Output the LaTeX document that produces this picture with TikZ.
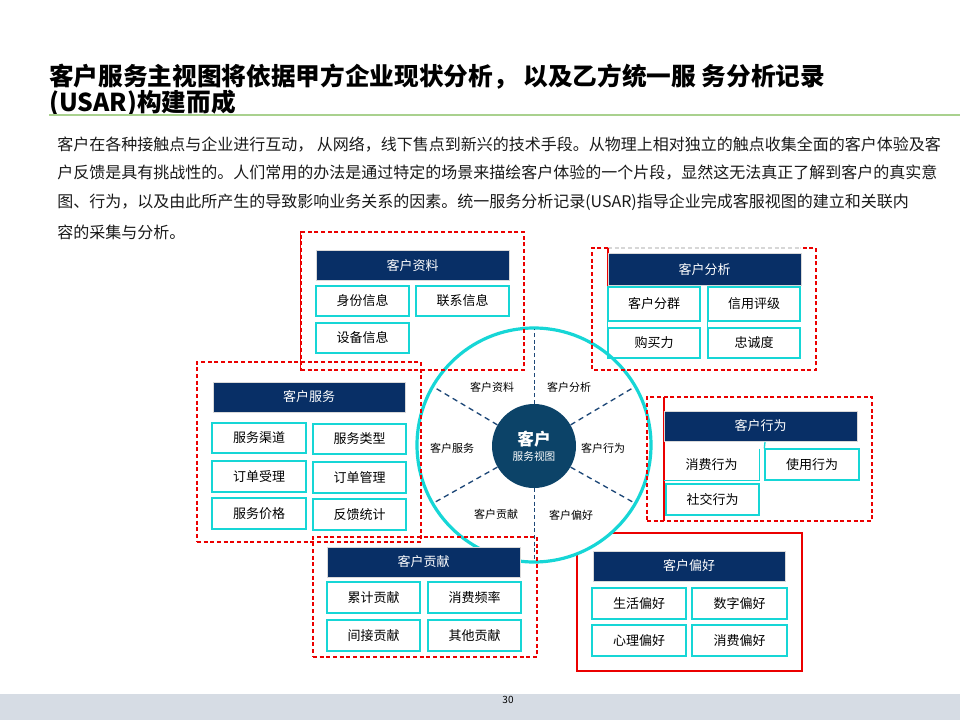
\documentclass[tikz,border=0pt]{standalone}
\usepackage{fontspec}
\setmainfont{Noto Sans CJK SC}
\usetikzlibrary{calc}
\definecolor{navy}{RGB}{8,47,102}
\definecolor{hubc}{RGB}{12,67,104}
\definecolor{cyanc}{RGB}{22,214,214}
\definecolor{rayc}{RGB}{30,72,120}
\definecolor{redc}{RGB}{235,0,0}
\definecolor{footc}{RGB}{214,220,228}
\definecolor{greenl}{RGB}{169,209,142}
\definecolor{hdrb}{RGB}{217,217,217}
\definecolor{grayd}{RGB}{215,215,215}
\newcommand\bx[7]{%
  \pgfmathsetmacro\bxw{(#4-#2)*0.75}%
  \pgfmathsetmacro\bxh{(#5-#3)*0.75}%
  \node[#7, minimum width=\bxw pt, minimum height=\bxh pt] (#1) at ({(#2+#4)/2},{(#3+#5)/2}) {#6};}
\begin{document}
\begin{tikzpicture}[x=0.75pt,y=-0.75pt,
  boxfont/.style={font=\fontsize{9.75pt}{10pt}\selectfont, text height=0.84em, text depth=0.16em},
  hdr/.style={draw=hdrb, line width=0.75pt, fill=navy, text=white, inner sep=0pt, boxfont},
  item/.style={draw=cyanc, line width=1pt, inner sep=0pt, boxfont},
  bare/.style={inner sep=0pt, boxfont},
  cyanl/.style={draw=cyanc, line width=1pt},
  reddash/.style={draw=redc, line width=0.8pt, dash pattern=on 3pt off 2pt, inner sep=0pt},
  graydash/.style={draw=grayd, line width=0.8pt, dash pattern=on 3pt off 2pt},
  redsolid/.style={draw=redc, line width=1.2pt, inner sep=0pt},
  ray/.style={draw=rayc, line width=1pt, dash pattern=on 4pt off 3pt},
  vray/.style={draw=rayc, line width=0.7pt, dash pattern=on 3pt off 2pt},
  wlabel/.style={font=\fontsize{8.25pt}{9pt}\selectfont},
  bodytext/.style={anchor=west, inner sep=0pt, font=\fontsize{12pt}{14pt}\selectfont, text=black!90},
  titletext/.style={anchor=west, inner sep=0pt, font=\fontsize{18.5pt}{20pt}\selectfont\bfseries}
]
\useasboundingbox (0,0) rectangle (960,720);
% footer
\fill[footc] (0,694) rectangle (960,720);
\node[font=\fontsize{7.5pt}{8pt}\selectfont, inner sep=0pt] (pg) at (508,700) {30};

% title
\node[titletext] (t1) at (49,77) {客户服务主视图将依据甲方企业现状分析， 以及乙方统一服 务分析记录};
\node[titletext] (t2) at (49,103) {(USAR)构建而成};
\coordinate (gl) at (49,115);
\coordinate (gr) at (960,115);
\draw[greenl, line width=1pt] (gl) -- (gr);

% body
\node[bodytext] (b1) at (57,145) {客户在各种接触点与企业进行互动， 从网络，线下售点到新兴的技术手段。从物理上相对独立的触点收集全面的客户体验及客};
\node[bodytext] (b2) at (57,173) {户反馈是具有挑战性的。人们常用的办法是通过特定的场景来描绘客户体验的一个片段，显然这无法真正了解到客户的真实意};
\node[bodytext] (b3) at (57,202) {图、行为，以及由此所产生的导致影响业务关系的因素。统一服务分析记录(USAR)指导企业完成客服视图的建立和关联内};
\node[bodytext] (b4) at (57,232) {容的采集与分析。};

% 客户偏好 frame (under the wheel)
\bx{fP}{577}{533}{802}{671}{}{redsolid}

% wheel
\node[circle, draw=cyanc, line width=2.4pt, fill=white, minimum size=175.5pt, inner sep=0pt] (wheel) at (534,445) {};
\node[circle, fill=hubc, minimum size=63pt, inner sep=0pt, text=white, align=center] (hub) at (534,446)
  {{\fontsize{12.5pt}{13pt}\selectfont\bfseries 客户}\\[-1pt]{\fontsize{8pt}{9pt}\selectfont 服务视图}};
\foreach \a in {30,150,210,330} {
  \coordinate (o\a) at ($(wheel.center)+(\a:85.5pt)$);
  \draw[ray] (hub.\a) -- (o\a);
}
\coordinate (o90) at ($(wheel.center)+(90:87pt)$);
\coordinate (o270) at ($(wheel.center)+(270:86pt)$);
\draw[vray] (hub.90) -- (o90);
\draw[vray] (hub.270) -- (o270);
\node[wlabel] (wA) at (492,387) {客户资料};
\node[wlabel] (wB) at (569,387) {客户分析};
\node[wlabel] (wC) at (452,448) {客户服务};
\node[wlabel] (wE) at (603,448) {客户行为};
\node[wlabel] (wD) at (496,514) {客户贡献};
\node[wlabel] (wF) at (571,515) {客户偏好};

% 客户资料 group
\bx{fA}{301}{232}{524}{370}{}{reddash}
\draw[redsolid] (fA.north west) -- (fA.south west);
\bx{hA}{316}{251}{509}{281}{客户资料}{hdr}
\bx{iA1}{316}{286}{409}{316}{身份信息}{item}
\bx{iA2}{416}{286}{509}{316}{联系信息}{item}
\bx{iA3}{316}{323}{409}{353}{设备信息}{item}

% 客户分析 group
\coordinate (bA) at (608,248);
\coordinate (bB) at (592,248);
\coordinate (bC) at (592,370);
\coordinate (bD) at (816,370);
\coordinate (bE) at (816,248);
\coordinate (bF) at (800,248);
\coordinate (bG) at (608,287);
\draw[reddash] (bA) -- (bB) -- (bC) -- (bD) -- (bE) -- (bF);
\draw[graydash] (bA) -- (bF);
\draw[redsolid, line width=0.8pt] (bA) -- (bG);
\bx{hB}{608}{254}{801}{286}{客户分析}{hdr}
\bx{iB1}{608}{287}{700}{321}{客户分群}{item}
\bx{iB2}{708}{287}{800}{321}{信用评级}{item}
\bx{iB3}{608}{328}{700}{358}{购买力}{item}
\bx{iB4}{708}{328}{800}{358}{忠诚度}{item}
\draw[cyanl] (iB1.north west) -- (iB3.south west);
\draw[cyanl] (iB2.north west) -- (iB4.south west);

% 客户服务 group
\bx{fC}{197}{362}{421}{542}{}{reddash}
\bx{hC}{213}{382}{405}{412}{客户服务}{hdr}
\bx{iC1}{212}{423}{306}{453}{服务渠道}{item}
\bx{iC2}{313}{424}{406}{454}{服务类型}{item}
\bx{iC3}{212}{461}{306}{492}{订单受理}{item}
\bx{iC4}{313}{462}{406}{493}{订单管理}{item}
\bx{iC5}{212}{498}{306}{529}{服务价格}{item}
\bx{iC6}{313}{499}{406}{530}{反馈统计}{item}

% 客户行为 group
\bx{fE}{647}{397}{872}{521}{}{reddash}
\coordinate (eT) at (664,397);
\coordinate (eB) at (664,521);
\draw[redsolid, line width=1pt] (eT) -- (eB);
\bx{hE}{664}{411}{857}{441}{客户行为}{hdr}
\bx{iE1}{664}{449}{759}{480}{消费行为}{bare}
\draw[cyanl] (iE1.north east) -- (iE1.south east) -- (iE1.south west);
\bx{iE2}{765}{449}{859}{480}{使用行为}{item}
\coordinate (eU) at (765,442);
\draw[cyanl] (iE2.north west) -- (eU);
\bx{iE3}{666}{484}{759}{515}{社交行为}{item}

% 客户贡献 group
\bx{fD}{313}{537}{537}{657}{}{reddash}
\bx{hD}{327}{547}{520}{577}{客户贡献}{hdr}
\bx{iD1}{327}{582}{420}{613}{累计贡献}{item}
\bx{iD2}{428}{582}{521}{613}{消费频率}{item}
\bx{iD3}{327}{620}{420}{651}{间接贡献}{item}
\bx{iD4}{428}{620}{521}{651}{其他贡献}{item}

% 客户偏好 group
\bx{hF}{593}{551}{785}{581}{客户偏好}{hdr}
\bx{iF1}{592}{588}{686}{619}{生活偏好}{item}
\bx{iF2}{692}{588}{787}{619}{数字偏好}{item}
\bx{iF3}{592}{625}{686}{656}{心理偏好}{item}
\bx{iF4}{692}{625}{787}{656}{消费偏好}{item}
\end{tikzpicture}
\end{document}
